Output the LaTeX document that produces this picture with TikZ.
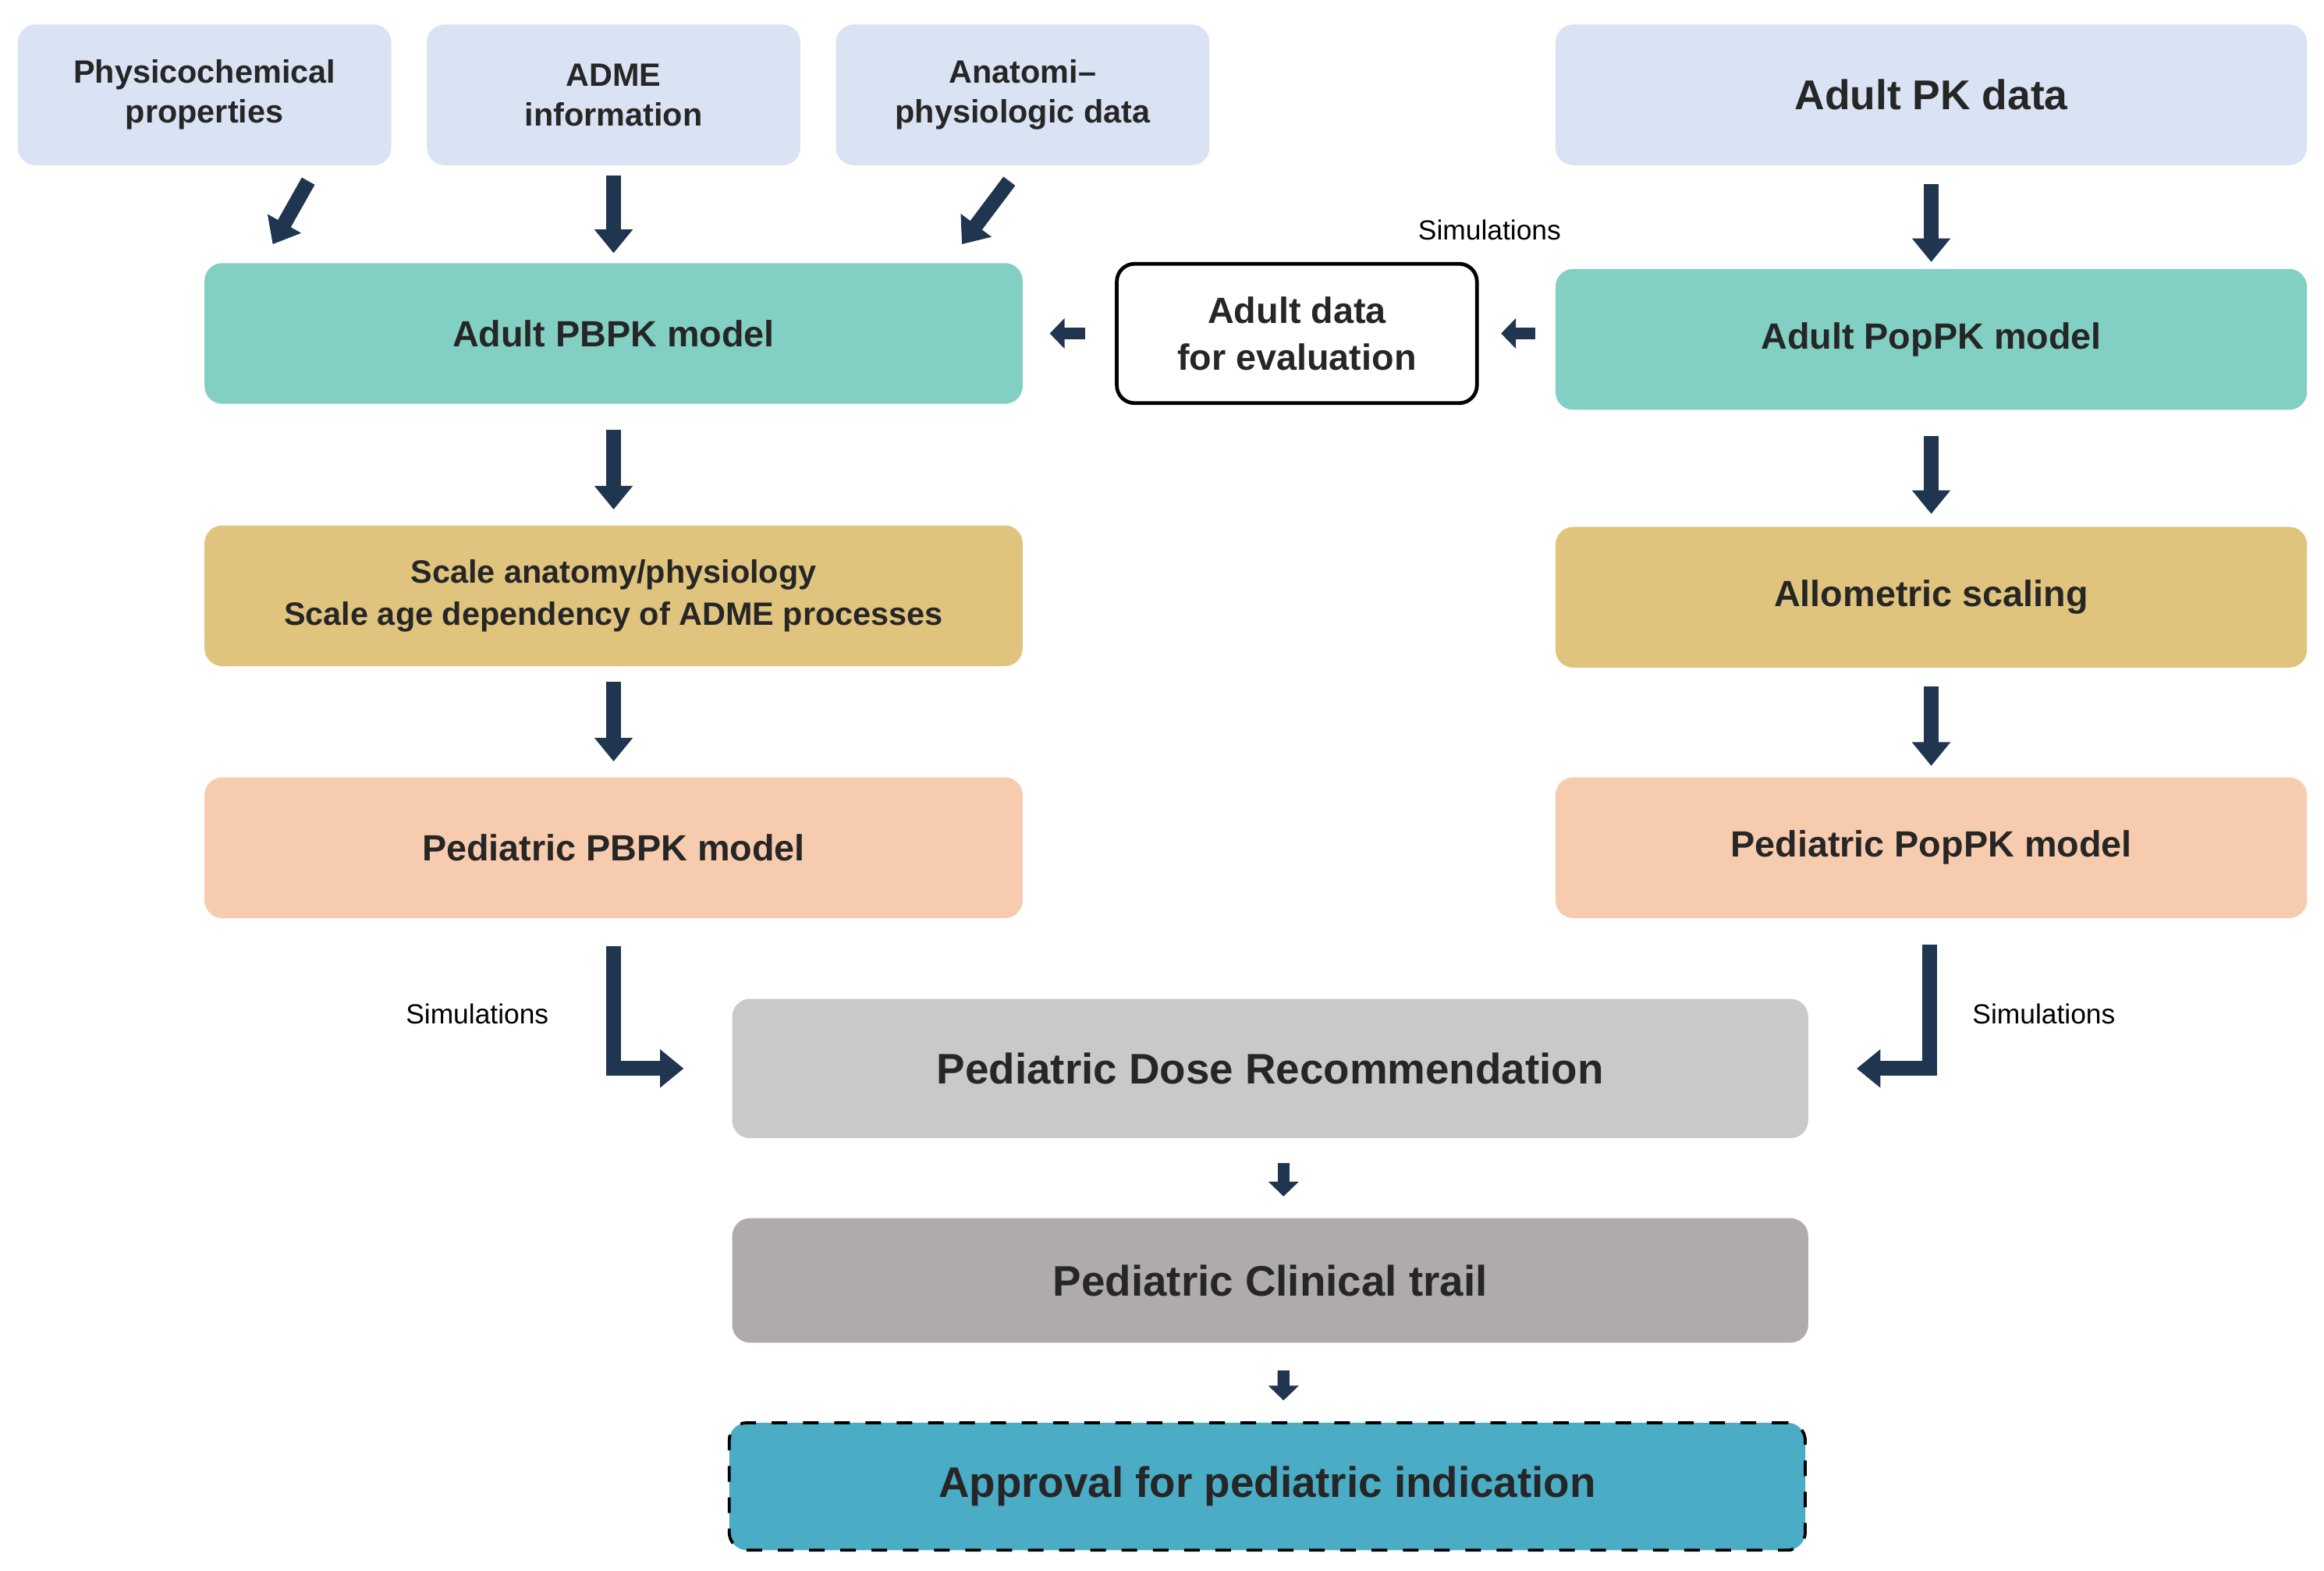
\documentclass[tikz,border=0pt]{standalone}
\usepackage{fontspec}
\setmainfont{Liberation Sans}
\usetikzlibrary{positioning,arrows.meta}
\definecolor{inblue}{HTML}{DAE3F3}
\definecolor{modteal}{HTML}{82CFC4}
\definecolor{scgold}{HTML}{E0C47E}
\definecolor{pedpeach}{HTML}{F7CBAD}
\definecolor{dosegray}{HTML}{C9C9C9}
\definecolor{trialgray}{HTML}{AFABAB}
\definecolor{apprblue}{HTML}{4BACC6}
\definecolor{navy}{HTML}{1F3550}
\begin{document}
\begin{tikzpicture}[x=0.1mm, y=-0.1mm]
    \tikzstyle{box}=[rectangle, rounded corners=1.2mm, inner sep=0pt, align=center, font=\fontsize{7}{8.5}\selectfont\bfseries, text=black!85]
    \tikzstyle{input}=[box, fill=inblue, minimum width=25.2mm, minimum height=9.5mm, font=\fontsize{6.2}{7.6}\selectfont\bfseries]
    \tikzstyle{blk}=[navy, line width=1mm, -{Triangle[length=1.6mm, width=2.5mm]}]
    \tikzstyle{sim}=[font=\fontsize{5.3}{6}\selectfont]
    \useasboundingbox (0,0) rectangle (1568,1060);

    % Inputs
    \node[input] (phys) at (138,64) {Physicochemical\\properties};
    \node[input] (adme) at (414,64) {ADME\\information};
    \node[input] (anat) at (690,64) {Anatomi--\\physiologic data};
    \node[box, fill=inblue, minimum width=50.7mm, minimum height=9.5mm, font=\fontsize{8}{9}\selectfont\bfseries] (adpk) at (1303,64) {Adult PK data};

    % PBPK branch
    \node[box, fill=modteal, minimum width=55.2mm, minimum height=9.5mm] (pbpk) at (414,225) {Adult PBPK model};
    \node[box, fill=scgold, minimum width=55.2mm, minimum height=9.5mm, font=\fontsize{6.2}{8}\selectfont\bfseries] (scale) at (414,402) {Scale anatomy/physiology\\Scale age dependency of ADME processes};
    \node[box, fill=pedpeach, minimum width=55.2mm, minimum height=9.5mm] (pedpbpk) at (414,572) {Pediatric PBPK model};

    % Evaluation data
    \node[box, draw=black, fill=white, line width=0.25mm, minimum width=24.3mm, minimum height=9.4mm, font=\fontsize{7}{9}\selectfont\bfseries] (evdata) at (875,225) {Adult data\\for evaluation};

    % PopPK branch
    \node[box, fill=modteal, minimum width=50.7mm, minimum height=9.5mm] (poppk) at (1303,229) {Adult PopPK model};
    \node[box, fill=scgold, minimum width=50.7mm, minimum height=9.5mm] (allo) at (1303,403) {Allometric scaling};
    \node[box, fill=pedpeach, minimum width=50.7mm, minimum height=9.5mm] (pedpop) at (1303,572) {Pediatric PopPK model};

    % Outcome
    \node[box, fill=dosegray, minimum width=72.6mm, minimum height=9.4mm, font=\fontsize{8.2}{9}\selectfont\bfseries] (dose) at (857,721) {Pediatric Dose Recommendation};
    \node[box, fill=trialgray, minimum width=72.6mm, minimum height=8.4mm, font=\fontsize{8.2}{9}\selectfont\bfseries] (trial) at (857,864) {Pediatric Clinical trail};
    \node[box, fill=apprblue, draw=black, dashed, line width=0.2mm, minimum width=72.6mm, minimum height=8.6mm, font=\fontsize{8.2}{9}\selectfont\bfseries] (appr) at (855,1003) {Approval for pediatric indication};

    % Labels
    \node[sim] (simtop) at (1005,155) {Simulations};
    \node[sim] (simleft) at (322,684) {Simulations};
    \node[sim] (simright) at (1379,684) {Simulations};

    % Arrows
    \draw[blk] ([xshift=7mm, yshift=-1mm]phys.south) -- ([xshift=-23mm, yshift=1.2mm]pbpk.north);
    \draw[blk] ([yshift=-0.6mm]adme.south) -- ([yshift=0.6mm]pbpk.north);
    \draw[blk] ([xshift=-0.9mm, yshift=-1mm]anat.south) -- ([xshift=23.5mm, yshift=1.2mm]pbpk.north);
    \draw[blk] ([yshift=-1.2mm]adpk.south) -- ([yshift=0.4mm]poppk.north);
    \draw[blk] ([yshift=-1.7mm]pbpk.south) -- ([yshift=1mm]scale.north);
    \draw[blk] ([yshift=-1mm]scale.south) -- ([yshift=1mm]pedpbpk.north);
    \draw[blk] ([yshift=-1.7mm]poppk.south) -- ([yshift=0.8mm]allo.north);
    \draw[blk] ([yshift=-1.2mm]allo.south) -- ([yshift=0.7mm]pedpop.north);
    \draw[blk, -{Triangle[length=1mm, width=2mm]}, line width=0.8mm] ([xshift=-2mm]evdata.west) -- ([xshift=-4.4mm]evdata.west);
    \draw[blk, -{Triangle[length=1mm, width=2mm]}, line width=0.8mm] ([xshift=3.8mm]evdata.east) -- ([xshift=1.5mm]evdata.east);
    \draw[blk] ([yshift=-1.8mm]pedpbpk.south) |- ([xshift=-3.2mm]dose.west);
    \draw[blk] ([xshift=-0.1mm, yshift=-1.7mm]pedpop.south) |- ([xshift=3.2mm]dose.east);
    \draw[blk, -{Triangle[length=1mm, width=2mm]}, line width=0.8mm] ([xshift=0.9mm, yshift=-1.6mm]dose.south) -- ([xshift=0.9mm, yshift=1.4mm]trial.north);
    \draw[blk, -{Triangle[length=1mm, width=2mm]}, line width=0.8mm] ([xshift=0.9mm, yshift=-1.8mm]trial.south) -- ([xshift=1.1mm, yshift=1.4mm]appr.north);
\end{tikzpicture}
\end{document}
